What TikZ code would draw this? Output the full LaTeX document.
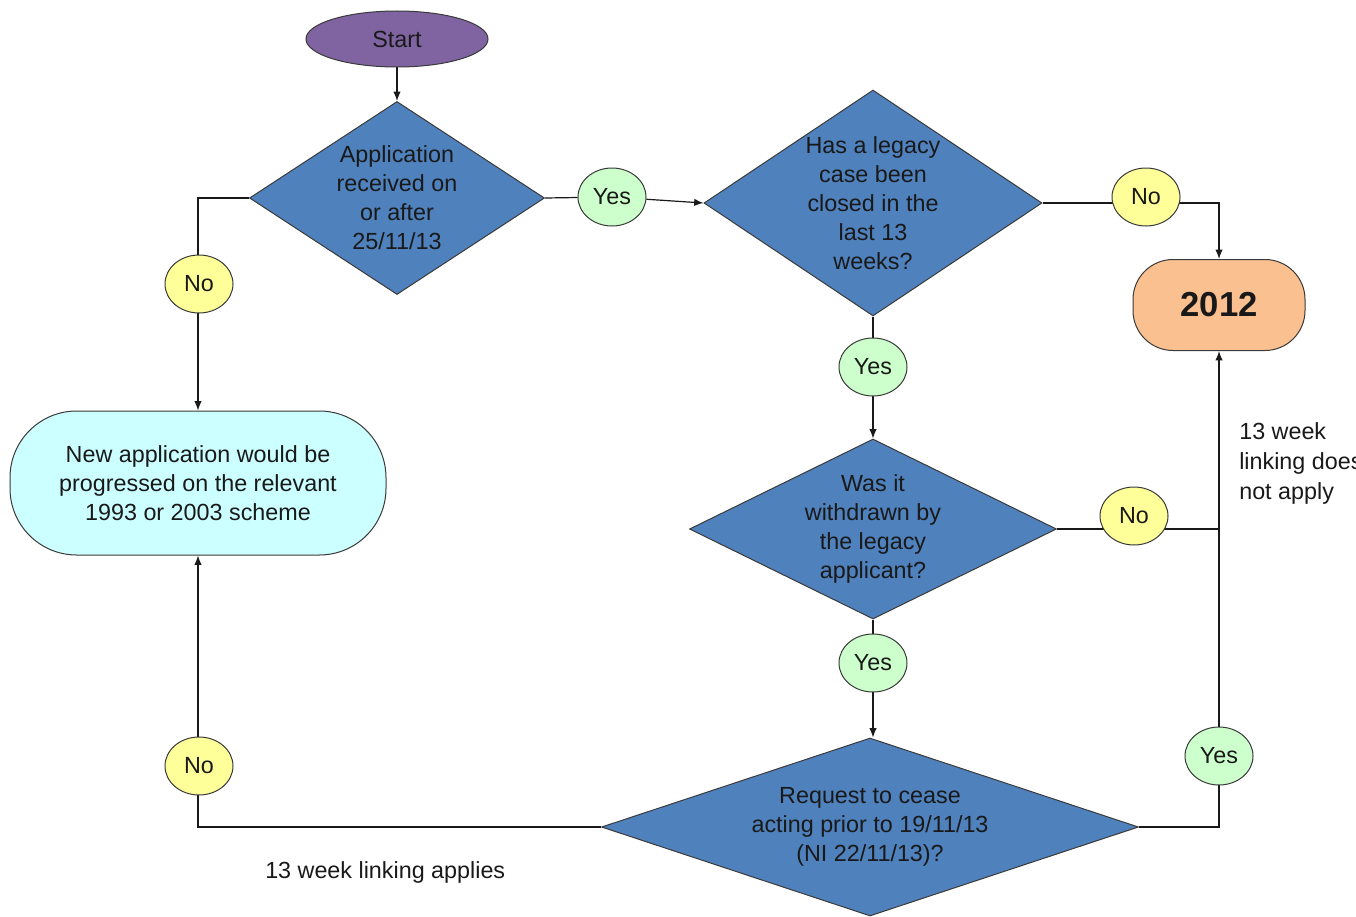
\documentclass[tikz,border=0pt]{standalone}
\usepackage{fontspec}
\setmainfont{Liberation Sans}
\usetikzlibrary{shapes.geometric,arrows.meta,backgrounds}
\definecolor{dblue}{HTML}{4F81BD}
\definecolor{purp}{HTML}{8064A2}
\definecolor{peach}{HTML}{FAC090}
\definecolor{lcyan}{HTML}{CCFFFF}
\definecolor{lyellow}{HTML}{FFFF99}
\definecolor{lgreen}{HTML}{CCFFCC}
\definecolor{edgec}{HTML}{3A3A3A}
\begin{document}
\begin{tikzpicture}[x=0.75pt,y=-0.75pt,
  every node/.style={font=\fontsize{17.5}{21.75}\selectfont, text=black!90},
  dia/.style={diamond, draw=edgec, fill=dblue, line width=0.75pt, inner sep=0pt},
  yesc/.style={ellipse, draw=edgec, fill=lgreen, minimum width=51pt, minimum height=43.5pt, inner sep=0pt, line width=0.75pt},
  noc/.style={yesc, fill=lyellow},
  conn/.style={line width=0.9pt, draw=black!90},
  arr/.style={conn, -{Latex[length=7pt,width=5.5pt]}},
  lbl/.style={align=center, inner sep=0pt}
]
\useasboundingbox (0,0) rectangle (1356,917);

% shapes
\node[ellipse, draw=edgec, fill=purp, line width=0.75pt, minimum width=136.5pt, minimum height=42pt] (start) at (397,39) {Start};

\node[dia, minimum width=221.25pt, minimum height=144.75pt] (d1) at (397,198) {};
\node[lbl] (d1t) at (397,198) {Application\\received on\\or after\\25/11/13};

\node[dia, minimum width=253.5pt, minimum height=169.5pt] (d2) at (873,203) {};
\node[lbl] (d2t) at (873,203) {Has a legacy\\case been\\closed in the\\last 13\\weeks?};

\node[dia, minimum width=275.25pt, minimum height=135pt] (d3) at (873,529) {};
\node[lbl] (d3t) at (873,529) {Was it\\withdrawn by\\the legacy\\applicant?};

\node[dia, minimum width=402.75pt, minimum height=133.5pt] (d4) at (870,827) {};
\node[lbl] (d4t) at (870,827) {Request to cease\\acting prior to 19/11/13\\(NI 22/11/13)?};

\node[rectangle, rounded corners=30pt, draw=edgec, fill=peach, line width=0.75pt,
      minimum width=129pt, minimum height=68.25pt,
      font=\fontsize{26}{30}\selectfont\bfseries] (t2012) at (1219,305) {2012};

\node[rectangle, rounded corners=50pt, draw=edgec, fill=lcyan, line width=0.75pt,
      minimum width=282pt, minimum height=108pt, align=center] (new) at (198,483)
      {New application would be\\progressed on the relevant\\1993 or 2003 scheme};

% yes / no labels
\node[yesc] (yes1) at (612,197) {Yes};
\node[noc]  (no2)  at (1146,197) {No};
\node[yesc] (yes3) at (873,367) {Yes};
\node[noc]  (no4)  at (1134,516) {No};
\node[yesc] (yes5) at (873,663) {Yes};
\node[yesc] (yes6) at (1219,756) {Yes};
\node[noc]  (no1)  at (199,284) {No};
\node[noc]  (no5)  at (199,766) {No};

% free texts
\node[anchor=west, inner sep=0pt] (note2) at (265,872) {13 week linking applies};
\begin{scope}
\clip (0,0) rectangle (1356,917);
\node[anchor=north west, inner sep=0pt, align=left,
      font=\fontsize{17.5}{22.5}\selectfont] (note1) at (1239,422) {13 week\\linking does\\not apply};
\end{scope}

% connectors
\begin{scope}[on background layer]
\draw[arr] (start) -- (d1);
\draw[conn] (d1.east) -- (yes1);
\draw[arr] (yes1) -- (d2.west);
\draw[arr] (d1.west) -| (new.north);
\draw[arr] (d2.east) -| (t2012.north);
\draw[arr] (d2.south) -- (d3.north);
\draw[conn] (d3.east) -- (d3.east -| t2012.south);
\draw[arr] (d3.south) -- (d3.south |- d4.north);
\draw[arr] (d4.east) -| (t2012.south);
\draw[arr] (d4.west) -| (new.south);
\end{scope}
\end{tikzpicture}
\end{document}
